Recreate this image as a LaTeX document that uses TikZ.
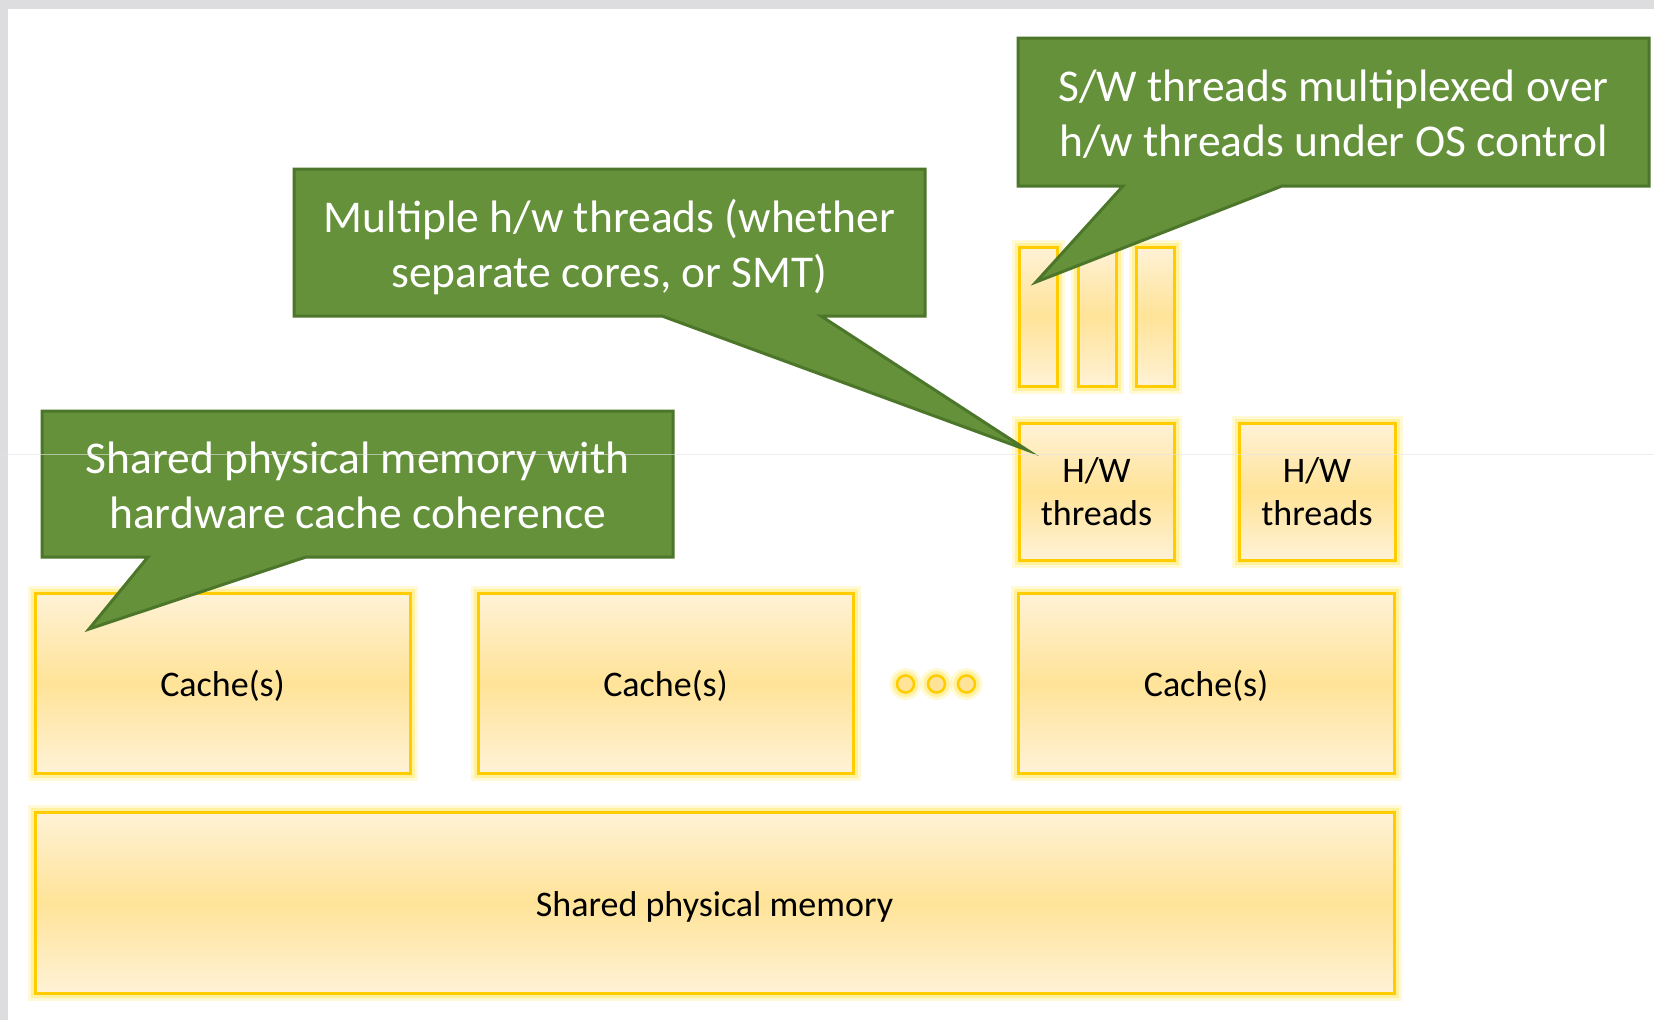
\documentclass[tikz,border=0pt]{standalone}
\usepackage{fontspec}
\setmainfont{Carlito}
\definecolor{framegray}{HTML}{DDDCDE}
\definecolor{calloutfill}{HTML}{64913A}
\definecolor{calloutedge}{HTML}{4C7629}
\definecolor{goldedge}{HTML}{FFCC00}
\definecolor{goldmid}{HTML}{FFE398}
\definecolor{goldpale}{HTML}{FFF2D6}
\definecolor{goldglow}{HTML}{FFE85A}
\definecolor{guideline}{HTML}{E4E4E4}
\begin{document}
\begin{tikzpicture}[x=1pt,y=-1pt,
  glow/.style={
    preaction={draw=goldglow, line width=15pt, draw opacity=0.25},
    preaction={draw=goldglow, line width=9pt, draw opacity=0.45}},
  goldbox/.style={rectangle, glow, draw=goldedge, line width=3pt,
    top color=goldpale, bottom color=goldpale, middle color=goldmid,
    inner sep=0pt, align=center, text=black,
    font=\fontsize{36}{43}\selectfont},
  boxlabel/.style={align=center, text=black, inner sep=0pt,
    font=\fontsize{36}{43}\selectfont},
  golddot/.style={circle, glow, draw=goldedge, line width=2.5pt,
    fill=goldmid, minimum size=17pt, inner sep=0pt},
  callout/.style={fill=calloutfill, draw=calloutedge, line width=3pt,
    line join=miter},
  callouttext/.style={align=center, text=white, inner sep=0pt,
    font=\fontsize{45.5}{55}\selectfont}]
\useasboundingbox (0,0) rectangle (1654,1020);
\fill[white] (0,0) rectangle (1654,1020);
% window frame
\fill[framegray] (0,0) rectangle (1654,9);
\fill[framegray] (0,0) rectangle (8,1020);

% shared memory and caches
\node[goldbox, minimum width=1359, minimum height=181] (mem) at (714.5,902.5) {};
\node[goldbox, minimum width=375, minimum height=180] (cache1) at (222.5,683) {};
\node[goldbox, minimum width=375, minimum height=180] (cache2) at (665.5,683) {};
\node[goldbox, minimum width=376, minimum height=180] (cache3) at (1206,683) {};
\node[boxlabel] (memlabel) at ([yshift=-4]mem.center) {Shared physical memory};
\node[boxlabel] (c1label) at ([yshift=-3]cache1.center) {Cache(s)};
\node[boxlabel] (c2label) at ([yshift=-3]cache2.center) {Cache(s)};
\node[boxlabel] (c3label) at ([yshift=-3]cache3.center) {Cache(s)};

% ellipsis dots
\node[golddot] (dot1) at (905.5,684) {};
\node[golddot] (dot2) at (936.5,684) {};
\node[golddot] (dot3) at (966.5,684) {};

% hardware threads
\node[goldbox, minimum width=155, minimum height=137] (hw1) at (1096.5,491.5) {};
\node[goldbox, minimum width=156, minimum height=137] (hw2) at (1317,491.5) {};
\node[boxlabel] (hw1label) at (hw1.center) {H/W\\threads};
\node[boxlabel] (hw2label) at (hw2.center) {H/W\\threads};

% software threads
\node[goldbox, minimum width=38, minimum height=139] (sw1) at (1038.5,316.5) {};
\node[goldbox, minimum width=38, minimum height=139] (sw2) at (1097.5,316.5) {};
\node[goldbox, minimum width=38, minimum height=139] (sw3) at (1155.5,316.5) {};

% callout tips
\coordinate (tip1) at (89,629);
\coordinate (tip2) at (1027,450);
\coordinate (tip3) at (1036,282);

% callouts
\draw[callout] (42,411) -- (673,411) -- (673,557) -- (306,557) -- (tip1)
  -- (148,557) -- (42,557) -- cycle;
\node[callouttext] (note1) at (357.5,485) {Shared physical memory with\\hardware cache coherence};

\draw[callout] (294,169) -- (925,169) -- (925,316) -- (821,316) -- (tip2)
  -- (662,316) -- (294,316) -- cycle;
\node[callouttext] (note2) at (609.5,247) {Multiple h/w threads (whether\\separate cores, or SMT)};

\draw[callout] (1018,38) -- (1649,38) -- (1649,186) -- (1282,186) -- (tip3)
  -- (1123,186) -- (1018,186) -- cycle;
\node[callouttext] (note3) at (1333.5,114) {S/W threads multiplexed over\\h/w threads under OS control};

% faint guide line across the page
\draw[guideline, line width=1pt, draw opacity=0.6] (0,454) -- (1654,454);
\end{tikzpicture}
\end{document}
